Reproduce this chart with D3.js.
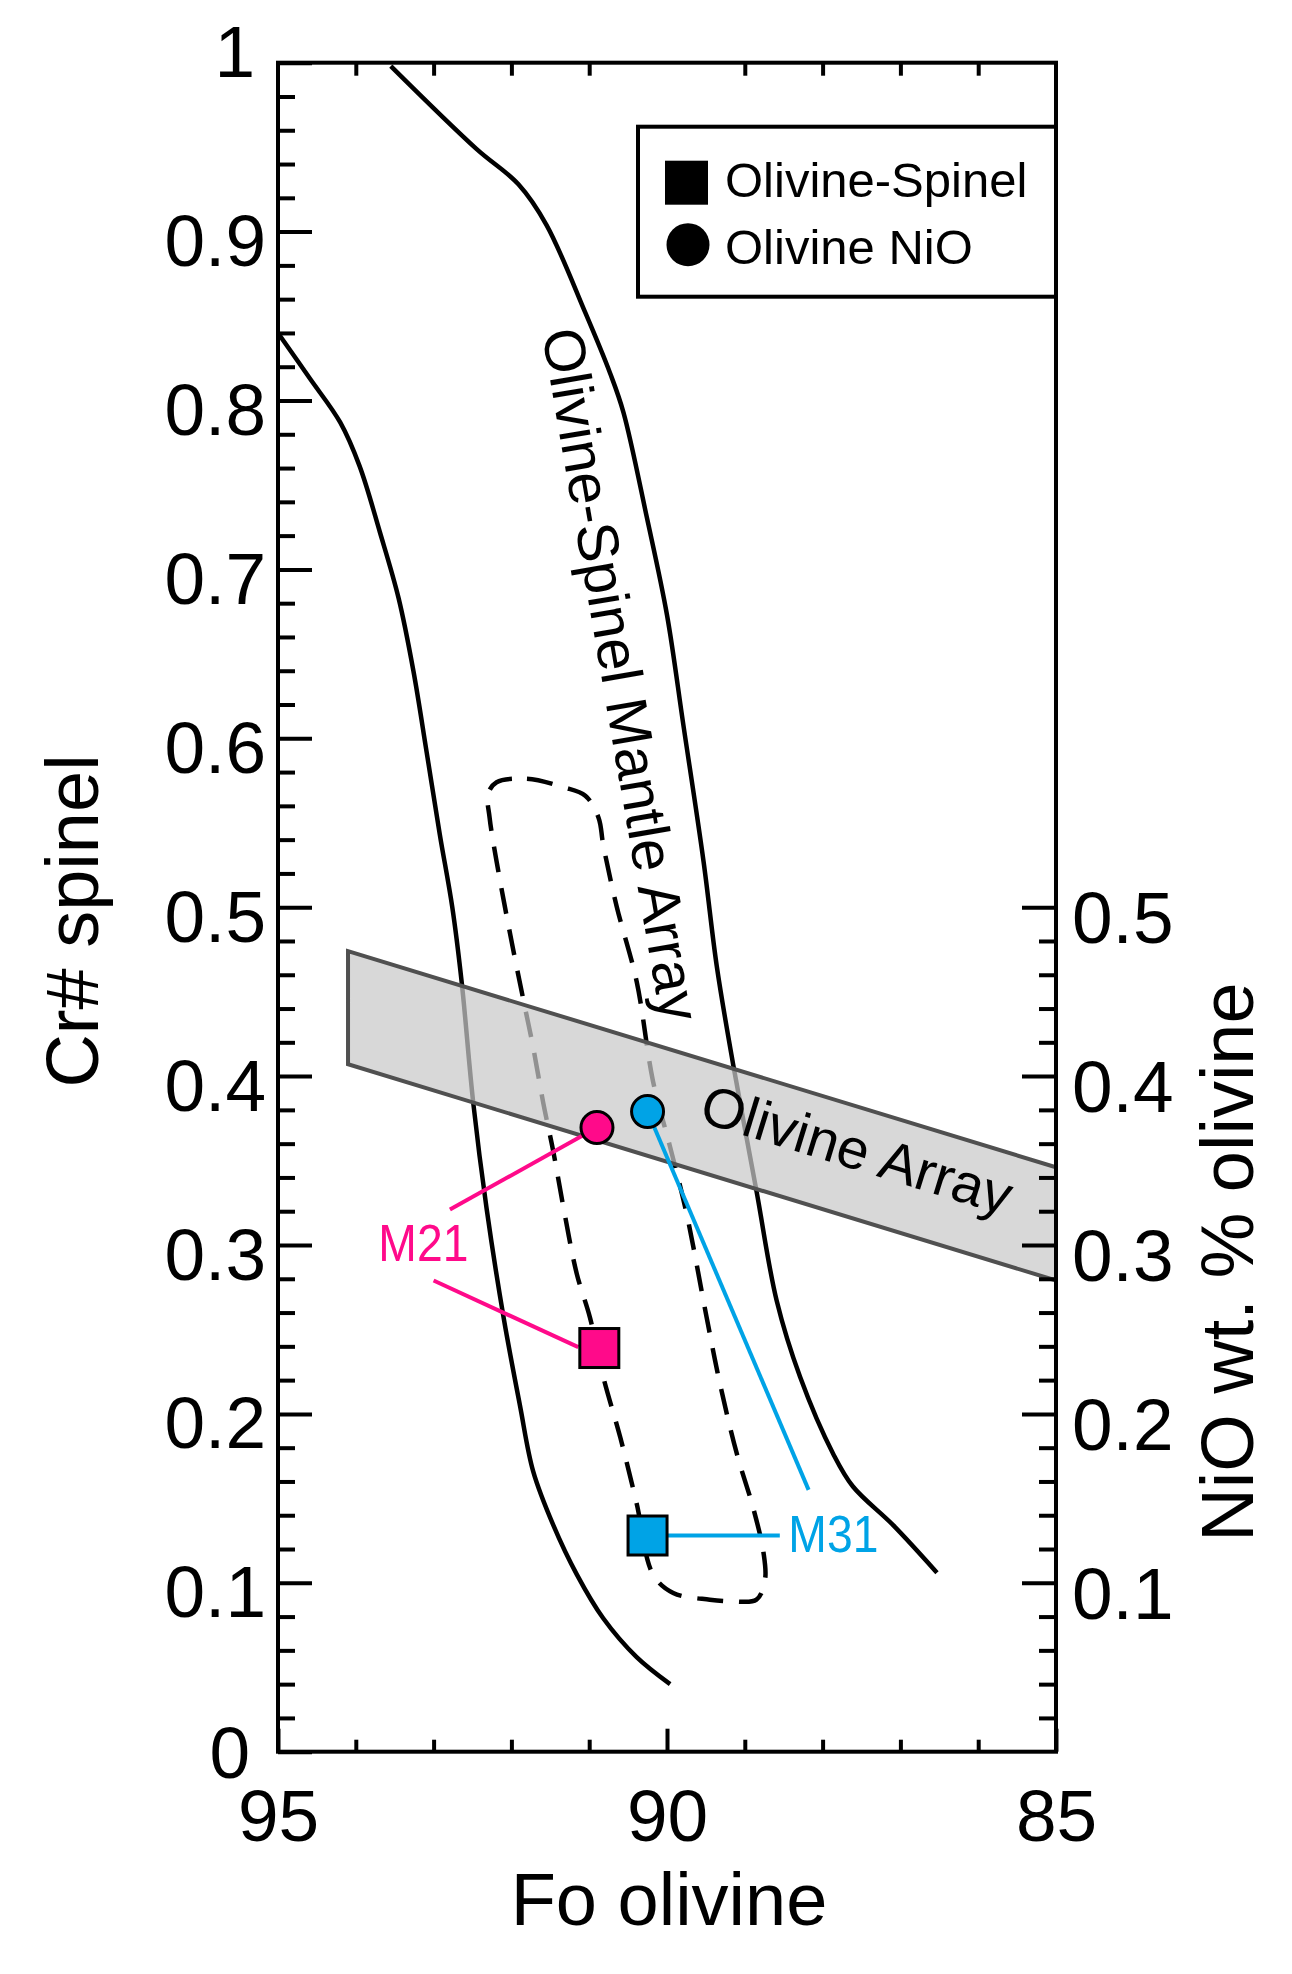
<!DOCTYPE html>
<html>
<head>
<meta charset="utf-8">
<script src="https://cdn.jsdelivr.net/npm/d3@7"></script>
<style>
  body { margin: 0; background: #fff; }
  text { font-family: "Liberation Sans", Arial, Helvetica, sans-serif; }
</style>
</head>
<body>
<svg id="chart" width="1292" height="1974"></svg>
<script>
// Fo olivine vs Cr# spinel (left) and NiO wt.% olivine (right, same scale)

// Olivine-Spinel Mantle Array boundaries [Fo, Cr#]
const leftCurve = [
  [95.00, 0.840], [94.59, 0.813], [94.20, 0.787], [93.95, 0.761], [93.69, 0.722],
  [93.45, 0.683], [93.26, 0.640], [93.09, 0.592], [92.92, 0.543], [92.76, 0.500],
  [92.64, 0.456], [92.49, 0.384], [92.32, 0.322], [92.10, 0.257], [91.89, 0.205],
  [91.72, 0.166], [91.46, 0.134], [91.16, 0.105], [90.82, 0.079], [90.39, 0.056],
  [89.96, 0.040]
];
const rightCurve = [
  [93.55, 0.998], [92.45, 0.949], [91.91, 0.928], [91.55, 0.904], [91.05, 0.852],
  [90.73, 0.816], [90.56, 0.793], [90.26, 0.731], [90.00, 0.673], [89.79, 0.608],
  [89.53, 0.527], [89.36, 0.465], [89.15, 0.407], [88.85, 0.332], [88.59, 0.267],
  [88.29, 0.222], [87.86, 0.176], [87.61, 0.157], [87.09, 0.134], [86.53, 0.106]
];

// dashed field [Fo, Cr#], closed outline
const dashedField = [
  [92.19, 0.574], [91.80, 0.576], [91.33, 0.571], [91.05, 0.566], [90.88, 0.553],
  [90.82, 0.537], [90.65, 0.501], [90.39, 0.456], [90.18, 0.397], [89.96, 0.358],
  [89.75, 0.319], [89.49, 0.257], [89.32, 0.218], [89.10, 0.176], [88.89, 0.144],
  [88.76, 0.118], [88.74, 0.102], [88.85, 0.090], [89.15, 0.089], [89.45, 0.090],
  [89.92, 0.094], [90.18, 0.105], [90.39, 0.147], [90.60, 0.186], [90.82, 0.222],
  [90.99, 0.257], [91.16, 0.283], [91.33, 0.322], [91.46, 0.355], [91.59, 0.384],
  [91.72, 0.417], [91.85, 0.446], [92.02, 0.485], [92.19, 0.527], [92.28, 0.553],
  [92.30, 0.567]
];

// Olivine Array band [Fo, NiO]
const olivineArray = [[94.1, 0.474], [85, 0.346], [85, 0.279], [94.1, 0.407]];

// samples
const samples = ["M21", "M31"];
const sampleColors = ["#ff0a8a", "#00a3e6"];
const spinelFo = [90.87, 90.25];
const spinelCr = [0.239, 0.128];
const nioFo = [90.90, 90.25];
const nioWt = [0.3695, 0.379];

// sample label anchors and leader lines [Fo, value]
const labelPos = [[93.71, 0.2905], [88.44, 0.1184]];
const leaders = [
  [[92.79, 0.321], [90.90, 0.3695]],
  [[93.00, 0.279], [91.14, 0.2395]],
  [[90.25, 0.379], [88.18, 0.155]],
  [[90.25, 0.128], [88.55, 0.128]]
];
const leaderSample = [0, 0, 1, 1];

// ticks
const xMajor = [95, 90, 85];
const xMinor = [94, 93, 92, 91, 89, 88, 87, 86];
const yMajor = d3.range(0, 11).map(i => i / 10);
const yMinor = d3.range(1, 50).filter(i => i % 5 !== 0).map(i => i / 50);
const niMajor = [0.1, 0.2, 0.3, 0.4, 0.5];
const niMinor = d3.range(1, 25).filter(i => i % 5 !== 0).map(i => i / 50);

const legendItems = ["Olivine-Spinel", "Olivine NiO"];

const svg = d3.select("#chart"),
      margin = { top: 62.7, left: 278, right: 236, bottom: 222.3 },
      plotW = +svg.attr("width") - margin.left - margin.right,
      plotH = +svg.attr("height") - margin.top - margin.bottom;

const x = d3.scaleLinear().domain([95, 85]).range([margin.left, margin.left + plotW]);
const y = d3.scaleLinear().domain([0, 1]).range([margin.top + plotH, margin.top]);
const yNi = d3.scaleLinear().domain([0, 1]).range([margin.top + plotH, margin.top]);

const line = d3.line().x(d => x(d[0])).y(d => y(d[1])).curve(d3.curveCatmullRom.alpha(0.5));
const lineNi = d3.line().x(d => x(d[0])).y(d => yNi(d[1]));

// curves
svg.append("path").datum(leftCurve).attr("d", line)
  .attr("fill", "none").attr("stroke", "#000").attr("stroke-width", 4.5);
svg.append("path").datum(rightCurve).attr("d", line)
  .attr("fill", "none").attr("stroke", "#000").attr("stroke-width", 4.5);

svg.append("path").datum(dashedField)
  .attr("d", d3.line().x(d => x(d[0])).y(d => y(d[1])).curve(d3.curveCatmullRomClosed.alpha(0.5)))
  .attr("fill", "none").attr("stroke", "#000").attr("stroke-width", 4.5)
  .attr("stroke-dasharray", "26,16");

// Olivine Array band
svg.append("path").datum(olivineArray)
  .attr("d", d => lineNi(d) + "Z")
  .attr("fill", "#c9c9c9").attr("fill-opacity", 0.72)
  .attr("stroke", "#505050").attr("stroke-width", 4).attr("stroke-linejoin", "miter");

// leader lines
svg.selectAll(".leader").data(leaders).enter().append("line")
  .attr("class", "leader")
  .attr("x1", d => x(d[0][0])).attr("y1", d => y(d[0][1]))
  .attr("x2", d => x(d[1][0])).attr("y2", d => y(d[1][1]))
  .attr("stroke", (d, i) => sampleColors[leaderSample[i]])
  .attr("stroke-width", 4);

// markers
const sq = 39;
svg.selectAll(".spinel").data(samples).enter().append("rect")
  .attr("class", "spinel")
  .attr("x", (d, i) => x(spinelFo[i]) - sq / 2)
  .attr("y", (d, i) => y(spinelCr[i]) - sq / 2)
  .attr("width", sq).attr("height", sq)
  .attr("fill", (d, i) => sampleColors[i])
  .attr("stroke", "#000").attr("stroke-width", 3);

svg.selectAll(".nio").data(samples).enter().append("circle")
  .attr("class", "nio")
  .attr("cx", (d, i) => x(nioFo[i]))
  .attr("cy", (d, i) => yNi(nioWt[i]))
  .attr("r", 16)
  .attr("fill", (d, i) => sampleColors[i])
  .attr("stroke", "#000").attr("stroke-width", 3);

svg.selectAll(".slabel").data(samples).enter().append("text")
  .attr("class", "slabel")
  .attr("x", (d, i) => x(labelPos[i][0]))
  .attr("y", (d, i) => y(labelPos[i][1]))
  .attr("font-size", 52)
  .attr("textLength", 90).attr("lengthAdjust", "spacingAndGlyphs")
  .attr("fill", (d, i) => sampleColors[i])
  .text(d => d);

// field labels
svg.append("text")
  .attr("transform", `translate(${x(91.61)},${y(0.8406)}) rotate(80.2)`)
  .attr("font-size", 58)
  .attr("textLength", 702).attr("lengthAdjust", "spacingAndGlyphs")
  .text("Olivine-Spinel Mantle Array");

svg.append("text")
  .attr("transform", `translate(${x(89.61)},${y(0.3734)}) rotate(17.1)`)
  .attr("font-size", 56)
  .attr("textLength", 322).attr("lengthAdjust", "spacingAndGlyphs")
  .text("Olivine Array");

// axes
const fmt = d => (d === 0 ? "0" : d === 1 ? "1" : d3.format(".1f")(d));
const tickFont = 73;

function styleAxis(g) {
  g.select(".domain").remove();
  g.selectAll("line").attr("stroke", "#000").attr("stroke-width", 4);
  g.attr("font-size", tickFont).attr("font-family", null);
}

svg.append("g").attr("transform", `translate(0,${y(0)})`)
  .call(d3.axisBottom(x).tickValues(xMinor).tickSize(-12).tickFormat(""))
  .call(styleAxis);
svg.append("g").attr("transform", `translate(0,${y(0)})`)
  .call(d3.axisBottom(x).tickValues(xMajor).tickSize(-23).tickPadding(37).tickFormat(d3.format("d")))
  .call(styleAxis);

svg.append("g").attr("transform", `translate(0,${y(1)})`)
  .call(d3.axisTop(x).tickValues(xMinor).tickSize(-13).tickFormat(""))
  .call(styleAxis);

svg.append("g").attr("transform", `translate(${x(95)},0)`)
  .call(d3.axisLeft(y).tickValues(yMinor).tickSize(-17).tickFormat(""))
  .call(styleAxis);
const yAx = svg.append("g").attr("transform", `translate(${x(95)},0)`)
  .call(d3.axisLeft(y).tickValues(yMajor).tickSize(-34).tickPadding(12).tickFormat(fmt))
  .call(styleAxis);
yAx.selectAll(".tick text")
  .attr("dy", d => (d === 1 ? "0.19em" : d === 0 ? "0.36em" : "0.466em"))
  .attr("dx", d => (d === 0 ? -16 : d === 1 ? -11 : 0));

svg.append("g").attr("transform", `translate(${x(85)},0)`)
  .call(d3.axisRight(yNi).tickValues(niMinor).tickSize(-17).tickFormat(""))
  .call(styleAxis);
svg.append("g").attr("transform", `translate(${x(85)},0)`)
  .call(d3.axisRight(yNi).tickValues(niMajor).tickSize(-34).tickPadding(16).tickFormat(d3.format(".1f")))
  .call(styleAxis)
  .selectAll(".tick text").attr("dy", "0.49em");

// frame
svg.append("rect")
  .attr("x", x(95)).attr("y", y(1))
  .attr("width", x(85) - x(95)).attr("height", y(0) - y(1))
  .attr("fill", "none").attr("stroke", "#000").attr("stroke-width", 4);

// axis titles
svg.append("text")
  .attr("x", x(90) + 2).attr("y", y(0) + 173)
  .attr("text-anchor", "middle").attr("font-size", 74)
  .text("Fo olivine");

svg.append("text")
  .attr("transform", `translate(98,${921}) rotate(-90)`)
  .attr("text-anchor", "middle").attr("font-size", 74)
  .text("Cr# spinel");

svg.append("text")
  .attr("transform", `translate(${x(85) + 197},${1262}) rotate(-90)`)
  .attr("text-anchor", "middle").attr("font-size", 74)
  .text("NiO wt. % olivine");

// legend
const legend = svg.append("g")
  .attr("transform", `translate(${x(85) - 418},${y(1) + 64})`);

legend.append("rect")
  .attr("x", 0).attr("y", 0).attr("width", 418).attr("height", 170)
  .attr("fill", "#fff").attr("stroke", "#000").attr("stroke-width", 4);

legend.append("rect")
  .attr("x", 27).attr("y", 34).attr("width", 43).attr("height", 44)
  .attr("fill", "#000");
legend.append("circle")
  .attr("cx", 50).attr("cy", 118).attr("r", 21.5)
  .attr("fill", "#000");

legend.selectAll(".ltext").data(legendItems).enter().append("text")
  .attr("class", "ltext")
  .attr("x", 87)
  .attr("y", (d, i) => 70 + i * 67)
  .attr("font-size", 49)
  .text(d => d);
</script>
</body>
</html>
